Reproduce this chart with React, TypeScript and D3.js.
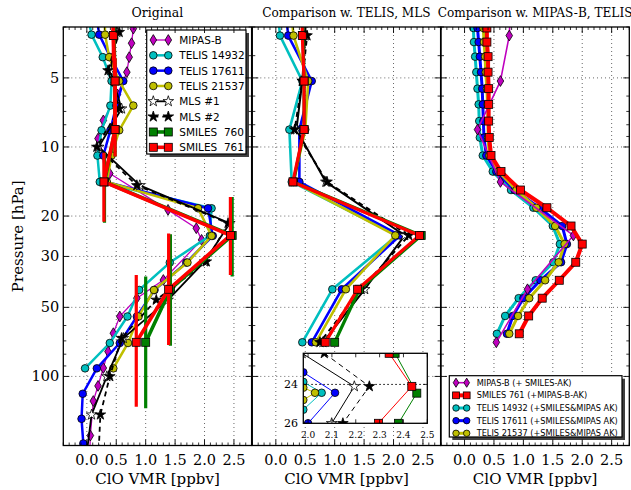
import React from 'react';
import * as d3 from 'd3';

// ---------- vertical grids [hPa] ----------
const smilesP = [2.0, 3.27, 5.16, 8.4, 14.2, 24.3, 41.7, 71.0];
const telisP = [2.55, 3.24, 4.06, 5.16, 6.6, 8.46, 10.9, 14.2, 18.5, 24.4, 31.9, 42.0, 54.8, 71.5, 92.2, 119, 153, 196, 255];
const mlsP = [2.15, 3.16, 4.64, 6.81, 10.0, 14.7, 21.5, 31.6, 46.4, 68.1, 100, 146.8, 215];
const mipasP = [2.6, 3.05, 3.53, 4.06, 4.72, 5.9, 7.66, 9.19, 13.05, 18.8, 22.6, 25.4, 38.0, 45.6, 54.8, 64.8, 77.9, 91.9, 110, 128, 181, 215];
const akP = [2.55, 3.03, 3.49, 4.04, 4.72, 5.57, 6.52, 7.71, 9.1, 10.9, 12.8, 15.4, 18.4, 22.1, 26.5, 31.8, 38.1, 45.6, 54.5, 65.2];

// ---------- original profiles, ClO VMR [ppbv] ----------
const mipasB = [0.82, 0.79, 0.76, 0.72, 0.68, 0.52, 0.28, 0.19, 0.39, 1.38, 1.86, 1.95, 1.30, 0.85, 0.56, 0.45, 0.36, 0.28, 0.19, 0.11, 0.06, 0.05];
const telis14932 = [0.0, 0.08, 0.27, 0.42, 0.40, 0.25, 0.18, 0.22, 2.12, 2.09, 1.41, 0.89, 0.69, 0.39, -0.03];
const telis17611 = [0.15, 0.21, 0.40, 0.62, 0.50, 0.40, 0.28, 0.33, 2.06, 2.14, 1.69, 1.15, 0.85, 0.56, 0.17, -0.07, -0.09, -0.06, -0.05];
const telis21537 = [0.30, 0.31, 0.38, 0.55, 0.79, 0.55, 0.42, 0.34, 1.89, 2.12, 1.71, 1.14, 0.88, 0.70, 0.45];
const mls1 = [0.50, 0.51, 0.40, 0.59, 0.20, 0.90, 2.43, 2.00, 1.38, 0.62, 0.34, 0.08, 0.0];
const mls2 = [0.55, 0.55, 0.36, 0.55, 0.17, 0.85, 2.40, 2.03, 1.18, 0.59, 0.39, 0.23, 0.2];
const smiles760 = [0.45, 0.46, 0.48, 0.48, 0.30, 2.47, 1.42, 1.00];
const smiles761 = [0.44, 0.45, 0.48, 0.48, 0.29, 2.44, 1.39, 0.84];

// vertical extent of each SMILES level (levels 3.27 ... 71 hPa) [hPa]
const smiles760ResTop = [2.6, 4.1, 6.6, 10.6, 16.5, 24.0, 36.7];
const smiles760ResBot = [4.2, 6.6, 11.0, 21.4, 36.7, 73.5, 137.6];
const smiles761ResTop = [2.6, 4.1, 6.6, 10.6, 16.5, 23.8, 36.1];
const smiles761ResBot = [4.2, 6.6, 11.0, 21.2, 36.1, 72.9, 135.5];

// ---------- profiles on the SMILES grid ----------
const telis14932Conv = [0.0, 0.07, 0.45, 0.23, 0.27, 2.06, 0.96, 0.45];
const telis17611Conv = [0.12, 0.21, 0.61, 0.40, 0.40, 2.11, 1.12, 0.61];
const telis21537Conv = [0.22, 0.30, 0.55, 0.50, 0.30, 2.03, 1.19, 0.68];
const mls1Conv = [0.52, 0.50, 0.45, 0.35, 0.85, 2.19, 1.51, 0.80];
const mls2Conv = [0.55, 0.53, 0.45, 0.32, 0.87, 2.26, 1.45, 0.75];

// ---------- inset around the 24 hPa peak ----------
const insetTelis14932V = [1.98, 2.057, 1.98];
const insetTelis14932P = [23.87, 24.43, 25.3];
const insetTelis17611V = [1.98, 2.113, 2.0];
const insetTelis17611P = [23.38, 24.43, 26.0];
const insetTelis21537V = [1.98, 2.029, 1.98];
const insetTelis21537P = [24.17, 24.43, 24.8];
const insetMls1V = [1.975, 2.194, 2.099];
const insetMls1P = [22.4, 24.1, 26.0];
const insetMls2V = [2.068, 2.257, 2.146];
const insetMls2P = [22.4, 24.1, 26.0];
const insetSmiles760V = [2.365, 2.456, 2.379];
const insetSmiles760P = [22.4, 24.45, 26.0];
const insetSmiles761V = [2.34, 2.435, 2.295];
const insetSmiles761P = [22.4, 24.1, 26.0];
const insetXTicks = [2.0, 2.1, 2.2, 2.3, 2.4, 2.5];
const insetYTicks = [24, 26];

// ---------- profiles with averaging kernels applied ----------
const mipasBAk = [0.80, 0.76, 0.61, 0.22, 0.61, 1.85, 1.07, 0.54];
const smiles761Ak = [0.37, 0.38, 0.38, 0.40, 0.40, 0.41, 0.41, 0.41, 0.42, 0.45, 0.62, 0.95, 1.40, 1.81, 2.00, 1.89, 1.61, 1.32, 1.09, 0.93];
const telis14932Ak = [0.14, 0.15, 0.16, 0.18, 0.20, 0.22, 0.24, 0.25, 0.26, 0.31, 0.48, 0.79, 1.17, 1.50, 1.62, 1.51, 1.21, 0.92, 0.69, 0.55];
const telis17611Ak = [0.21, 0.22, 0.24, 0.26, 0.28, 0.30, 0.31, 0.32, 0.33, 0.37, 0.54, 0.85, 1.27, 1.66, 1.74, 1.64, 1.29, 1.00, 0.82, 0.72];
const telis21537Ak = [0.31, 0.32, 0.33, 0.35, 0.36, 0.38, 0.39, 0.40, 0.40, 0.42, 0.58, 0.88, 1.22, 1.54, 1.70, 1.60, 1.37, 1.10, 0.91, 0.76];

// ---------- axes ----------
const xMajorTicks = [0, 0.5, 1.0, 1.5, 2.0, 2.5];
const xMinorTicks = d3.range(-4, 29).map(i => i / 10).filter(v => !xMajorTicks.some(m => Math.abs(m - v) < 1e-9));
const yMajorTicks = [5, 10, 20, 30, 50, 100];
const yMinorTicks = [3, 4, 6, 7, 8, 9, 40, 60, 70, 80, 90, 200];
const titles = ['Original', 'Comparison w. TELIS, MLS', 'Comparison w. MIPAS-B, TELIS'];
const titleSizes = [12.5, 12.1, 12.1];

const W = 631, H = 490;
const TOP = 27, BOTTOM = 445.5;
const PANEL_W = 188.3;
const LEFTS = [63.3, 252.3, 441.0];
const SERIF = '"DejaVu Serif", "Liberation Serif", serif';
const SANS = '"DejaVu Sans", "Liberation Sans", sans-serif';

const M = '#bf00bf', C = '#00bfbf', B = '#0000ff', Y = '#bfbf00', K = '#000000', G = '#008000', R = '#ff0000';

type Kind = 'circle' | 'square' | 'diamond' | 'star';
interface Series { label: string; p: number[]; v: number[]; color: string; fill: string; marker: Kind; lw: number; dash?: string; }

const panel1: Series[] = [
  { label: 'MIPAS-B', p: mipasP, v: mipasB, color: M, fill: M, marker: 'diamond', lw: 1.3 },
  { label: 'TELIS 14932', p: telisP, v: telis14932, color: C, fill: C, marker: 'circle', lw: 2.5 },
  { label: 'TELIS 17611', p: telisP, v: telis17611, color: B, fill: B, marker: 'circle', lw: 2.5 },
  { label: 'TELIS 21537', p: telisP, v: telis21537, color: Y, fill: Y, marker: 'circle', lw: 2.5 },
  { label: 'MLS #1', p: mlsP, v: mls1, color: K, fill: '#ffffff', marker: 'star', lw: 1.8 },
  { label: 'MLS #2', p: mlsP, v: mls2, color: K, fill: K, marker: 'star', lw: 1.8, dash: '5,4' },
  { label: 'SMILES  760', p: smilesP, v: smiles760, color: G, fill: G, marker: 'square', lw: 3.6 },
  { label: 'SMILES  761', p: smilesP, v: smiles761, color: R, fill: R, marker: 'square', lw: 3.6 },
];

const panel2: Series[] = [
  { label: 'TELIS 14932', p: smilesP, v: telis14932Conv, color: C, fill: C, marker: 'circle', lw: 2.6 },
  { label: 'TELIS 17611', p: smilesP, v: telis17611Conv, color: B, fill: B, marker: 'circle', lw: 2.6 },
  { label: 'TELIS 21537', p: smilesP, v: telis21537Conv, color: Y, fill: Y, marker: 'circle', lw: 2.6 },
  { label: 'MLS #1', p: smilesP, v: mls1Conv, color: K, fill: '#ffffff', marker: 'star', lw: 2.0 },
  { label: 'MLS #2', p: smilesP, v: mls2Conv, color: K, fill: K, marker: 'star', lw: 2.0, dash: '5,4' },
  { label: 'SMILES  760', p: smilesP, v: smiles760, color: G, fill: G, marker: 'square', lw: 3.2 },
  { label: 'SMILES  761', p: smilesP, v: smiles761, color: R, fill: R, marker: 'square', lw: 3.2 },
];

const insetSeries: Series[] = [
  { label: 'TELIS 17611', p: insetTelis17611P, v: insetTelis17611V, color: B, fill: B, marker: 'circle', lw: 1 },
  { label: 'TELIS 14932', p: insetTelis14932P, v: insetTelis14932V, color: C, fill: C, marker: 'circle', lw: 1 },
  { label: 'TELIS 21537', p: insetTelis21537P, v: insetTelis21537V, color: Y, fill: Y, marker: 'circle', lw: 1 },
  { label: 'MLS #1', p: insetMls1P, v: insetMls1V, color: K, fill: '#ffffff', marker: 'star', lw: 1 },
  { label: 'MLS #2', p: insetMls2P, v: insetMls2V, color: K, fill: K, marker: 'star', lw: 1, dash: '5,4' },
  { label: 'SMILES  760', p: insetSmiles760P, v: insetSmiles760V, color: G, fill: G, marker: 'square', lw: 1 },
  { label: 'SMILES  761', p: insetSmiles761P, v: insetSmiles761V, color: R, fill: R, marker: 'square', lw: 1 },
];

const mipasAkSeries: Series = { label: 'MIPAS-B (+ SMILES-AK)', p: smilesP, v: mipasBAk, color: M, fill: M, marker: 'diamond', lw: 1.6 };
const smilesAkSeries: Series = { label: 'SMILES 761 (+MIPAS-B-AK)', p: akP, v: smiles761Ak, color: R, fill: R, marker: 'square', lw: 4 };
const telis14932AkSeries: Series = { label: 'TELIS 14932 (+SMILES&MIPAS AK)', p: akP, v: telis14932Ak, color: C, fill: C, marker: 'circle', lw: 3 };
const telis17611AkSeries: Series = { label: 'TELIS 17611 (+SMILES&MIPAS AK)', p: akP, v: telis17611Ak, color: B, fill: B, marker: 'circle', lw: 3 };
const telis21537AkSeries: Series = { label: 'TELIS 21537 (+SMILES&MIPAS AK)', p: akP, v: telis21537Ak, color: Y, fill: Y, marker: 'circle', lw: 3 };
const panel3Draw = [telis14932AkSeries, telis17611AkSeries, telis21537AkSeries, mipasAkSeries, smilesAkSeries];
const panel3Legend = [mipasAkSeries, smilesAkSeries, telis14932AkSeries, telis17611AkSeries, telis21537AkSeries];

function starPath(cx: number, cy: number, r: number) {
  const pts: string[] = [];
  for (let i = 0; i < 10; i++) {
    const a = -Math.PI / 2 + (i * Math.PI) / 5;
    const rr = i % 2 === 0 ? r : r * 0.382;
    pts.push(`${(cx + rr * Math.cos(a)).toFixed(2)},${(cy + rr * Math.sin(a)).toFixed(2)}`);
  }
  return 'M' + pts.join('L') + 'Z';
}

function Mark({ kind, cx, cy, fill, k = 1 }: { kind: Kind; cx: number; cy: number; fill: string; k?: number }) {
  const sw = 0.8;
  if (kind === 'circle') return <circle cx={cx} cy={cy} r={3.8 * k} fill={fill} stroke="#000" strokeWidth={sw} />;
  if (kind === 'square') {
    const s = 8 * k;
    return <rect x={cx - s / 2} y={cy - s / 2} width={s} height={s} fill={fill} stroke="#000" strokeWidth={sw} />;
  }
  if (kind === 'diamond') {
    const h = 5.4 * k, w = 3.3 * k;
    return <path d={`M${cx},${cy - h}L${cx + w},${cy}L${cx},${cy + h}L${cx - w},${cy}Z`} fill={fill} stroke="#000" strokeWidth={sw} />;
  }
  return <path d={starPath(cx, cy, 5.6 * k)} fill={fill} stroke="#000" strokeWidth={sw} strokeLinejoin="miter" />;
}

function SeriesView({ s, x, y }: { s: Series; x: (v: number) => number; y: (v: number) => number }) {
  const pts: [number, number][] = s.v.map((v, i) => [x(v), y(s.p[i])]);
  const d = d3.line()(pts) || '';
  return (
    <g>
      <path d={d} fill="none" stroke={s.color} strokeWidth={s.lw} strokeDasharray={s.dash} strokeLinejoin="round" />
      {pts.map((q, i) => <Mark key={i} kind={s.marker} cx={q[0]} cy={q[1]} fill={s.fill} />)}
    </g>
  );
}

function Legend({ items, x0, y0, w, h, row0, step, sx0, sx1, tx, fs, k }: any) {
  return (
    <g>
      <rect x={x0 + 3} y={y0 + 3} width={w} height={h} fill="#404040" />
      <rect x={x0} y={y0} width={w} height={h} fill="#fff" stroke="#000" strokeWidth={1.2} />
      {items.map((s: Series, i: number) => {
        const cy = row0 + i * step;
        return (
          <g key={i}>
            <line x1={sx0} x2={sx1} y1={cy} y2={cy} stroke={s.color} strokeWidth={s.lw} strokeDasharray={s.dash} />
            <Mark kind={s.marker} cx={sx0} cy={cy} fill={s.fill} k={k} />
            <Mark kind={s.marker} cx={sx1} cy={cy} fill={s.fill} k={k} />
            <text x={tx} y={cy} dominantBaseline="central" fontSize={fs} fontFamily={SANS} style={{ whiteSpace: 'pre' }}>{s.label}</text>
          </g>
        );
      })}
    </g>
  );
}

function Frame({ left, idx, children }: { left: number; idx: number; children?: React.ReactNode }) {
  const x = d3.scaleLinear().domain([-0.4, 2.8]).range([left, left + PANEL_W]);
  const y = d3.scaleLog().domain([3, 200]).range([TOP, BOTTOM]);
  const right = left + PANEL_W;
  const fmt = d3.format('.1f');
  return (
    <g>
      {/* grid */}
      {xMajorTicks.map(t => <line key={'gx' + t} x1={x(t)} x2={x(t)} y1={TOP} y2={BOTTOM} stroke="#000" strokeWidth={0.6} strokeDasharray="1,3" />)}
      {yMajorTicks.map(t => <line key={'gy' + t} x1={left} x2={right} y1={y(t)} y2={y(t)} stroke="#000" strokeWidth={0.6} strokeDasharray="1,3" />)}
      {children}
      {/* frame and ticks */}
      <rect x={left} y={TOP} width={PANEL_W} height={BOTTOM - TOP} fill="none" stroke="#000" strokeWidth={1.3} />
      {xMajorTicks.map(t => (
        <g key={'tx' + t}>
          <line x1={x(t)} x2={x(t)} y1={BOTTOM} y2={BOTTOM - 6} stroke="#000" strokeWidth={0.9} />
          <line x1={x(t)} x2={x(t)} y1={TOP} y2={TOP + 6} stroke="#000" strokeWidth={0.9} />
          <text x={x(t)} y={464.5} textAnchor="middle" fontSize={14.5} fontFamily={SERIF}>{fmt(t)}</text>
        </g>
      ))}
      {xMinorTicks.map(t => (
        <g key={'mx' + t}>
          <line x1={x(t)} x2={x(t)} y1={BOTTOM} y2={BOTTOM - 3} stroke="#000" strokeWidth={0.8} />
          <line x1={x(t)} x2={x(t)} y1={TOP} y2={TOP + 3} stroke="#000" strokeWidth={0.8} />
        </g>
      ))}
      {yMajorTicks.map(t => (
        <g key={'ty' + t}>
          <line x1={left} x2={left + 6} y1={y(t)} y2={y(t)} stroke="#000" strokeWidth={0.9} />
          <line x1={right} x2={right - 6} y1={y(t)} y2={y(t)} stroke="#000" strokeWidth={0.9} />
          {idx === 0 && <text x={left - 4} y={y(t)} textAnchor="end" dominantBaseline="central" fontSize={14.5} fontFamily={SERIF}>{t}</text>}
        </g>
      ))}
      {yMinorTicks.map(t => (
        <g key={'my' + t}>
          <line x1={left} x2={left + 3} y1={y(t)} y2={y(t)} stroke="#000" strokeWidth={0.8} />
          <line x1={right} x2={right - 3} y1={y(t)} y2={y(t)} stroke="#000" strokeWidth={0.8} />
        </g>
      ))}
      <text x={left + PANEL_W / 2} y={17} textAnchor="middle" fontSize={titleSizes[idx]} fontFamily={SERIF}>{titles[idx]}</text>
      <text x={left + PANEL_W / 2} y={483.5} textAnchor="middle" fontSize={15} fontFamily={SERIF}>ClO VMR [ppbv]</text>
    </g>
  );
}

export default function App() {
  const y = d3.scaleLog().domain([3, 200]).range([TOP, BOTTOM]);
  const xs = LEFTS.map(l => d3.scaleLinear().domain([-0.4, 2.8]).range([l, l + PANEL_W]));

  // inset placement inside the middle panel
  const ix = d3.scaleLinear().domain([1.98, 2.5]).range([303.3, 427.3]);
  const iy = d3.scaleLinear().domain([22.4, 26]).range([353.3, 423.3]);

  const bars = (vals: number[], tops: number[], bots: number[], color: string, x: any) =>
    tops.map((t, i) => (
      <line key={i} x1={x(vals[i + 1])} x2={x(vals[i + 1])} y1={y(t)} y2={y(bots[i])} stroke={color} strokeWidth={3.2} />
    ));

  return (
    <svg width={W} height={H} style={{ position: 'absolute', left: 0, top: 0, background: '#fff' }}>
      <rect width={W} height={H} fill="#fff" />
      <defs>
        {LEFTS.map((l, i) => (
          <clipPath id={'clip' + i} key={i}>
            <rect x={l} y={TOP} width={PANEL_W} height={BOTTOM - TOP} />
          </clipPath>
        ))}
        <clipPath id="clipInset">
          <rect x={303.3} y={353.3} width={124} height={70} />
        </clipPath>
      </defs>

      {/* Panel 1: original profiles */}
      <Frame left={LEFTS[0]} idx={0}>
        <g clipPath="url(#clip0)">
          {panel1.slice(0, 6).map((s, i) => <SeriesView key={i} s={s} x={xs[0]} y={y} />)}
          {bars(smiles760, smiles760ResTop, smiles760ResBot, G, xs[0])}
          <SeriesView s={panel1[6]} x={xs[0]} y={y} />
          {bars(smiles761, smiles761ResTop, smiles761ResBot, R, xs[0])}
          <SeriesView s={panel1[7]} x={xs[0]} y={y} />
        </g>
        <Legend items={panel1} x0={146.7} y0={30} w={99.3} h={124} row0={40} step={15.33}
          sx0={153.3} sx1={168.3} tx={179.3} fs={10.5} k={1} />
      </Frame>

      {/* Panel 2: on the SMILES grid */}
      <Frame left={LEFTS[1]} idx={1}>
        <g clipPath="url(#clip1)">
          {panel2.map((s, i) => <SeriesView key={i} s={s} x={xs[1]} y={y} />)}
        </g>
        <g>
          <rect x={303.3} y={353.3} width={124} height={70} fill="#fff" />
          <line x1={303.3} x2={427.3} y1={iy(24)} y2={iy(24)} stroke="#000" strokeWidth={1} strokeDasharray="1.5,2.5" />
          <g clipPath="url(#clipInset)">
            {insetSeries.map((s, i) => <SeriesView key={i} s={s} x={ix} y={iy} />)}
          </g>
          <rect x={303.3} y={353.3} width={124} height={70} fill="none" stroke="#000" strokeWidth={1.3} />
          {insetXTicks.map(t => (
            <g key={'ix' + t}>
              <line x1={ix(t)} x2={ix(t)} y1={423.3} y2={419.3} stroke="#000" strokeWidth={0.8} />
              <line x1={ix(t)} x2={ix(t)} y1={353.3} y2={357.3} stroke="#000" strokeWidth={0.8} />
              <text x={ix(t)} y={438} textAnchor="middle" fontSize={9} fontFamily={SERIF}>{t.toFixed(1)}</text>
            </g>
          ))}
          {insetYTicks.map(t => (
            <g key={'iy' + t}>
              <line x1={303.3} x2={307.3} y1={iy(t)} y2={iy(t)} stroke="#000" strokeWidth={0.8} />
              <line x1={427.3} x2={423.3} y1={iy(t)} y2={iy(t)} stroke="#000" strokeWidth={0.8} />
              <text x={298} y={iy(t)} textAnchor="end" dominantBaseline="central" fontSize={11} fontFamily={SERIF}>{t}</text>
            </g>
          ))}
        </g>
      </Frame>

      {/* Panel 3: averaging kernels applied */}
      <Frame left={LEFTS[2]} idx={2}>
        <g clipPath="url(#clip2)">
          {panel3Draw.map((s, i) => <SeriesView key={i} s={s} x={xs[2]} y={y} />)}
        </g>
        <Legend items={panel3Legend} x0={449.3} y0={375.7} w={172.7} h={61.3} row0={382.7} step={12.65}
          sx0={456} sx1={466.7} tx={476.7} fs={8.2} k={0.85} />
      </Frame>

      <text transform={`translate(23,${(TOP + BOTTOM) / 2}) rotate(-90)`} textAnchor="middle" fontSize={15} fontFamily={SERIF}>Pressure [hPa]</text>
    </svg>
  );
}
